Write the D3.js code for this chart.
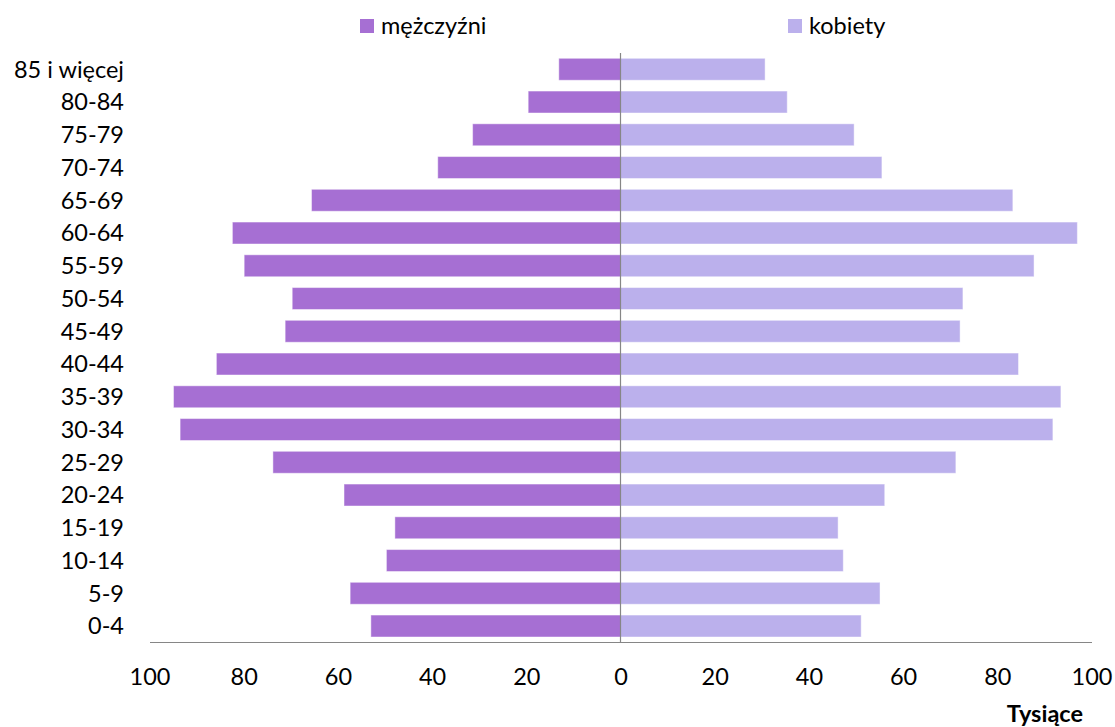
<!DOCTYPE html>
<html>
<head>
<meta charset="utf-8">
<script src="https://cdn.jsdelivr.net/npm/d3@7"></script>
<style>
  html, body { margin: 0; padding: 0; background: #fff; }
  svg { display: block; }
  text { font-family: Lato, "Open Sans", sans-serif; fill: #000; }
</style>
</head>
<body>
<svg id="chart" width="1115" height="727"></svg>
<script>
// ---- data ----
const categories = ["0-4","5-9","10-14","15-19","20-24","25-29","30-34","35-39","40-44","45-49","50-54","55-59","60-64","65-69","70-74","75-79","80-84","85 i więcej"];
const men   = [53.0, 57.4, 49.7, 47.9, 58.7, 73.8, 93.5, 94.9, 85.8, 71.2, 69.7, 79.9, 82.4, 65.6, 38.8, 31.4, 19.6, 13.1];
const women = [51.1, 55.1, 47.3, 46.2, 56.1, 71.2, 91.8, 93.5, 84.5, 72.1, 72.7, 87.8, 97.0, 83.3, 55.5, 49.6, 35.4, 30.7];
const seriesNames = ["mężczyźni", "kobiety"];
const xTicks = [-100, -80, -60, -40, -20, 0, 20, 40, 60, 80, 100];
const axisTitle = "Tysiące";

const colors = { men: "#a66fd3", women: "#bbb0ec" };

const svg = d3.select("#chart");
const FS = 23.5;

const x = d3.scaleLinear().domain([-100, 100]).range([149.5, 1091.5]);
const y = d3.scaleBand()
  .domain(categories.slice().reverse())
  .range([52.9, 642.4])
  .paddingInner(0.33)
  .paddingOuter(0.165);

const rows = categories.map((c, i) => ({ cat: c, m: men[i], w: women[i] }));

// bars - men (left)
svg.append("g").selectAll("rect").data(rows).join("rect")
  .attr("x", d => x(-d.m))
  .attr("y", d => y(d.cat))
  .attr("width", d => x(0) - x(-d.m))
  .attr("height", y.bandwidth())
  .attr("fill", colors.men)
  .attr("stroke", "rgba(255,255,255,0.45)")
  .attr("stroke-width", 1);

// bars - women (right)
svg.append("g").selectAll("rect").data(rows).join("rect")
  .attr("x", x(0))
  .attr("y", d => y(d.cat))
  .attr("width", d => x(d.w) - x(0))
  .attr("height", y.bandwidth())
  .attr("fill", colors.women)
  .attr("stroke", "rgba(255,255,255,0.45)")
  .attr("stroke-width", 1);

// center line
svg.append("line")
  .attr("x1", x(0)).attr("x2", x(0))
  .attr("y1", y.range()[0]).attr("y2", y.range()[1])
  .attr("stroke", "#868686").attr("stroke-width", 1.2);

// bottom axis
const xAxis = d3.axisBottom(x)
  .tickValues(xTicks)
  .tickFormat(d => Math.abs(d))
  .tickSize(0)
  .tickPadding(26);
const gx = svg.append("g").attr("transform", `translate(0,${642})`).call(xAxis);
gx.select(".domain").attr("stroke", "#868686").attr("stroke-width", 1.2);
gx.selectAll("text")
  .style("font-family", "Lato, 'Open Sans', sans-serif")
  .style("font-size", FS + "px")
  .attr("fill", "#000");

// category labels
svg.append("g").selectAll("text").data(categories).join("text")
  .attr("x", 124)
  .attr("y", d => y(d) + y.bandwidth() / 2)
  .attr("dy", "0.36em")
  .attr("text-anchor", "end")
  .style("font-size", FS + "px")
  .text(d => d);

// legend
const legend = [
  { name: seriesNames[0], color: colors.men, x: 360 },
  { name: seriesNames[1], color: colors.women, x: 788 }
];
const lg = svg.append("g").selectAll("g").data(legend).join("g");
lg.append("rect")
  .attr("x", d => d.x).attr("y", 19)
  .attr("width", 14).attr("height", 14)
  .attr("fill", d => d.color);
lg.append("text")
  .attr("x", d => d.x + 21).attr("y", 34)
  .style("font-size", FS + "px")
  .text(d => d.name);

// axis title
svg.append("text")
  .attr("x", 1083).attr("y", 721.5)
  .attr("text-anchor", "end")
  .style("font-size", FS + "px")
  .style("font-weight", "bold")
  .text(axisTitle);
</script>
</body>
</html>
